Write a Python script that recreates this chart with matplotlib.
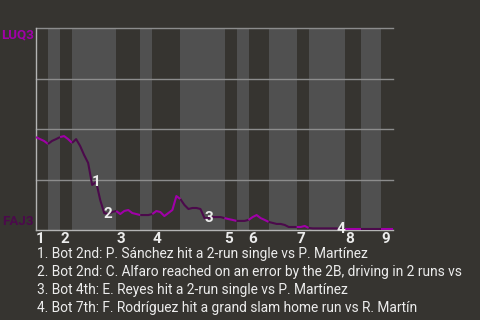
import matplotlib.pyplot as plt

# ======================
# DATA
# ======================
# win probability for LUQ3 after each play (0 = FAJ3 wins, 1 = LUQ3 wins)
win_prob = [
    0.460, 0.450, 0.441, 0.426, 0.441, 0.450, 0.460, 0.465, 0.450, 0.431,
    0.450, 0.416, 0.371, 0.332, 0.223, 0.238, 0.149, 0.084, 0.079, 0.089,
    0.094, 0.079, 0.094, 0.099, 0.084, 0.079, 0.074, 0.074, 0.074, 0.079,
    0.094, 0.089, 0.069, 0.084, 0.099, 0.168, 0.153, 0.124, 0.104, 0.109,
    0.109, 0.104, 0.059, 0.059, 0.064, 0.064, 0.064, 0.059, 0.054, 0.050,
    0.045, 0.045, 0.045, 0.050, 0.064, 0.074, 0.059, 0.050, 0.040, 0.035,
    0.030, 0.030, 0.025, 0.015, 0.015, 0.015, 0.015, 0.020, 0.010, 0.008,
    0.008, 0.008, 0.008, 0.008, 0.008, 0.008, 0.003, 0.003, 0.003, 0.003,
    0.003, 0.003, 0.003, 0.003, 0.003, 0.003, 0.003, 0.003, 0.003, 0.003,
]

# play index where each half inning starts (top 1st, bot 1st, top 2nd, ...)
half_starts = [0, 3, 6, 9, 20, 26, 29, 36, 47, 50, 53, 58, 65, 68, 77, 81, 86]
n_plays = 89

inning_labels = ['1', '2', '3', '4', '5', '6', '7', '8', '9']

away_team = 'LUQ3'
home_team = 'FAJ3'

# key plays: (play index, label)
key_plays = [(15, '1'), (18, '2'), (43, '3'), (76, '4')]
key_texts = [
    "1. Bot 2nd: P. Sánchez hit a 2-run single vs P. Martínez",
    "2. Bot 2nd: C. Alfaro reached on an error by the 2B, driving in 2 runs vs",
    "3. Bot 4th: E. Reyes hit a 2-run single vs P. Martínez",
    "4. Bot 7th: F. Rodríguez hit a grand slam home run vs R. Martín",
]

# ======================
# STYLE
# ======================
bg = '#363430'
band = '#505050'
away_color = '#a000a8'
home_color = '#4b0a4b'
text_color = '#ececec'

plt.rcParams['font.family'] = ['Roboto', 'DejaVu Sans']

fig = plt.figure(figsize=(4.8, 3.2), dpi=100, facecolor=bg)
ax = fig.add_axes([36 / 480, 1 - 230 / 320, 357 / 480, 202 / 320])
ax.set_facecolor(bg)
ax.set_xlim(0, n_plays)
ax.set_ylim(0, 1)

# half-inning bands (bottom halves lighter)
bounds = half_starts + [n_plays]
for i in range(len(half_starts)):
    if i % 2 == 1:
        ax.axvspan(bounds[i], bounds[i + 1], color=band, lw=0, zorder=0)

# grid
for g in [0.25, 0.5, 0.75, 1.0]:
    ax.axhline(g, color='#8c8c8c', lw=1.0, zorder=1, clip_on=False)

for s in ['top', 'right']:
    ax.spines[s].set_visible(False)
for s in ['left', 'bottom']:
    ax.spines[s].set_color('#b4b4b4')
    ax.spines[s].set_linewidth(1.0)

# line, coloured by batting team
for i in range(len(half_starts)):
    a, b = bounds[i], bounds[i + 1]
    xs = list(range(a, b + 1))
    ys = win_prob[a:b + 1]
    ax.plot(xs, ys, color=away_color if i % 2 == 0 else home_color,
            lw=1.5, zorder=3, solid_capstyle='butt')

# key play markers
for idx, lab in key_plays:
    ax.text(idx, win_prob[idx], lab, ha='center', va='center',
            color=text_color, fontsize=11, fontweight='bold', zorder=4)

# inning ticks
ax.set_xticks(half_starts[::2])
ax.set_xticklabels(inning_labels, ha='left', fontweight='bold')
ax.tick_params(axis='x', length=0, pad=1.5, labelsize=11, labelcolor=text_color)
ax.set_yticks([])

# team labels
ax.text(-0.5, 0.965, away_team, ha='right', va='center', color=away_color,
        fontsize=9.6, fontweight='bold')
ax.text(-0.5, 0.042, home_team, ha='right', va='center', color=home_color,
        fontsize=9.6, fontweight='bold')

# captions
for i, t in enumerate(key_texts):
    fig.text(37 / 480, 1 - (254 + 18 * i) / 320, t, ha='left', va='center',
             color=text_color, fontsize=9.9)

plt.savefig('out.png', dpi=100, facecolor=bg)
